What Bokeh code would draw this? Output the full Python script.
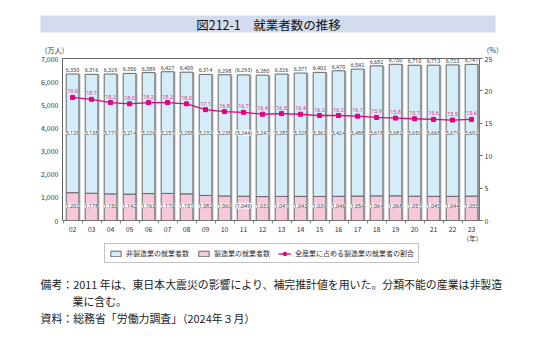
from bokeh.plotting import figure
from bokeh.layouts import column
from bokeh.models import (Range1d, LinearAxis, FixedTicker, ColumnDataSource, Label,
                          Legend, LegendItem, NumeralTickFormatter, BoxAnnotation)
from bokeh.transform import dodge
from bokeh.core.properties import value
from bokeh.embed import file_html
from bokeh.resources import INLINE

# ---------------- data ----------------
years = ["02", "03", "04", "05", "06", "07", "08", "09", "10", "11", "12",
         "13", "14", "15", "16", "17", "18", "19", "20", "21", "22", "23"]
non_mfg = [5128, 5138, 5179, 5214, 5226, 5257, 5258, 5232, 5238, 5244, 5247,
           5285, 5328, 5363, 5424, 5488, 5618, 5682, 5659, 5668, 5679, 5692]
mfg = [1202, 1178, 1150, 1142, 1163, 1170, 1151, 1082, 1060, 1049, 1033,
       1041, 1043, 1039, 1046, 1054, 1064, 1068, 1051, 1045, 1044, 1055]
total = [6330, 6316, 6329, 6356, 6389, 6427, 6409, 6314, 6298, 6293, 6280,
         6326, 6371, 6402, 6470, 6542, 6682, 6750, 6710, 6713, 6723, 6747]
share = [19.0, 18.7, 18.2, 18.0, 18.2, 18.2, 18.0, 17.1, 16.8, 16.7, 16.4,
         16.5, 16.4, 16.2, 16.2, 16.1, 15.9, 15.8, 15.7, 15.6, 15.5, 15.6]
estimated_year = "11"
left_ticks = [0, 1000, 2000, 3000, 4000, 5000, 6000, 7000]
right_ticks = [0, 5, 10, 15, 20, 25]

title_text = "図212-1　就業者数の推移"
legend_labels = ["非製造業の就業者数", "製造業の就業者数", "全産業に占める製造業の就業者の割合"]
note1 = "備考：2011 年は、東日本大震災の影響により、補完推計値を用いた。分類不能の産業は非製造"
note2 = "業に含む。"
note3 = "資料：総務省「労働力調査」（2024年３月）"

# ---------------- helpers ----------------
def fmt(v, yr):
    s = f"{v:,}"
    return f"({s})" if yr == estimated_year else s

idx = list(range(len(years)))
src = ColumnDataSource(dict(
    x=idx, non_mfg=non_mfg, mfg=mfg, total=total, share=share,
    total_label=[fmt(v, y) for v, y in zip(total, years)],
    non_label=[fmt(v, y) for v, y in zip(non_mfg, years)],
    mfg_label=[fmt(v, y) for v, y in zip(mfg, years)],
    share_label=[f"{v:.1f}" for v in share],
))

W = 535
H_TOP, H_MAIN, H_BOT = 55, 179, 108
FL, FW = 62, 417
FT, FH = 3, 164

JP = "Noto Sans CJK JP"
NUM = "Roboto"
TXT = "#333333"
BLUE = "#d5ecf9"
PINK = "#f6c8dc"
MAG = "#e4007f"
EDGE = "#666666"


def blank(h):
    f = figure(width=W, height=h, x_range=Range1d(0, W), y_range=Range1d(h, 0),
               x_axis_type=None, y_axis_type=None, min_border=0, frame_align=False,
               output_backend="svg", toolbar_location=None)
    f.outline_line_color = None
    f.border_fill_color = "white"
    f.background_fill_color = "white"
    return f


def lab(f, x, y, text, size, align="left", color=TXT):
    f.add_layout(Label(x=x, y=y, text=text, text_align=align, text_baseline="middle",
                       text_font=JP, text_font_size=size, text_color=color))


# ---------------- top: title band ----------------
top = blank(H_TOP)
top.add_layout(BoxAnnotation(left=40, right=495, top=15, bottom=32,
                             fill_color="#d3dbee", fill_alpha=1, line_color=None))
lab(top, 268, 23.5, title_text, "12.5px", align="center", color="#111111")
lab(top, 40, 49.5, "（万人）", "7px")
lab(top, 482, 49.5, "（%）", "7px")

# ---------------- main chart ----------------
p = figure(width=W, height=H_MAIN, frame_align=False,
           min_border_left=FL, min_border_right=W - FL - FW,
           min_border_top=FT, min_border_bottom=H_MAIN - FT - FH,
           x_range=Range1d(-0.53, 21.42), y_range=Range1d(0, 7000),
           output_backend="svg", toolbar_location=None)
p.outline_line_color = "#666666"
p.outline_line_width = 1
p.xgrid.visible = False
p.ygrid.visible = False
p.border_fill_color = "white"
p.background_fill_color = "white"

p.yaxis.ticker = FixedTicker(ticks=left_ticks)
p.yaxis.formatter = NumeralTickFormatter(format="0,0")
p.yaxis.axis_line_color = None
p.yaxis.major_tick_out = 0
p.yaxis.major_tick_in = 0
p.yaxis.minor_tick_line_color = None
p.yaxis.major_label_text_font = JP
p.yaxis.major_label_text_font_size = "7px"
p.yaxis.major_label_text_color = TXT
p.yaxis.major_label_standoff = 4

p.extra_y_ranges = {"pct": Range1d(0, 25)}
ax_r = LinearAxis(y_range_name="pct", ticker=FixedTicker(ticks=right_ticks))
ax_r.axis_line_color = None
ax_r.major_tick_out = 3
ax_r.major_tick_in = 0
ax_r.major_tick_line_color = EDGE
ax_r.minor_tick_line_color = None
ax_r.major_label_text_font = JP
ax_r.major_label_text_font_size = "7px"
ax_r.major_label_text_color = TXT
ax_r.major_label_standoff = 2
p.add_layout(ax_r, "right")

p.xaxis.ticker = FixedTicker(ticks=idx, minor_ticks=[i - 0.5 for i in range(len(years) + 1)])
p.xaxis.major_label_overrides = {i: y for i, y in enumerate(years)}
p.xaxis.axis_line_color = None
p.xaxis.major_tick_out = 0
p.xaxis.major_tick_in = 0
p.xaxis.minor_tick_out = 3
p.xaxis.minor_tick_in = 0
p.xaxis.minor_tick_line_color = "#888888"
p.xaxis.major_label_text_font = JP
p.xaxis.major_label_text_font_size = "7px"
p.xaxis.major_label_text_color = TXT
p.xaxis.major_label_standoff = 2

BW = 0.67
p.vbar(x=dodge("x", 0.08), top="total", width=BW, source=src,
       fill_color="#b9b9b9", line_color=None)
p.vbar(x="x", bottom=0, top="mfg", width=BW, source=src,
       fill_color=PINK, line_color=EDGE, line_width=1)
p.vbar(x="x", bottom="mfg", top="total", width=BW, source=src,
       fill_color=BLUE, line_color=EDGE, line_width=1)
p.line(x="x", y="share", y_range_name="pct", source=src,
       line_color=MAG, line_width=1.3)
p.scatter(x="x", y="share", y_range_name="pct", source=src,
          marker="square", size=4, fill_color=MAG, line_color=MAG)

p.text(x="x", y="total", text="total_label", source=src, y_offset=-2,
       text_align="center", text_baseline="bottom", text_font=value(NUM),
       text_font_size="5.5px", text_color="#444444")
p.text(x="x", y=3790, text="non_label", source=src,
       text_align="center", text_baseline="middle", text_font=value(NUM),
       text_font_size="5.5px", text_color="#444444",
       background_fill_color="white", background_fill_alpha=0.9)
p.text(x="x", y=640, text="mfg_label", source=src,
       text_align="center", text_baseline="middle", text_font=value(NUM),
       text_font_size="5.5px", text_color="#444444",
       background_fill_color="white", background_fill_alpha=0.9)
p.text(x="x", y="share", y_range_name="pct", text="share_label", source=src,
       y_offset=-4, text_align="center", text_baseline="bottom", text_font=value(NUM),
       text_font_size="5.5px", text_color="#e2358a")

# ---------------- bottom: legend + notes ----------------
bot = blank(H_BOT)
nan = float("nan")
g_non = bot.vbar(x=[nan], top=[nan], width=1, fill_color=BLUE, line_color=EDGE)
g_mfg = bot.vbar(x=[nan], top=[nan], width=1, fill_color=PINK, line_color=EDGE)
g_line = bot.line(x=[nan], y=[nan], line_color=MAG, line_width=1.3)
g_pts = bot.scatter(x=[nan], y=[nan], marker="square", size=4, fill_color=MAG, line_color=MAG)
legend = Legend(items=[LegendItem(label=legend_labels[0], renderers=[g_non]),
                       LegendItem(label=legend_labels[1], renderers=[g_mfg]),
                       LegendItem(label=legend_labels[2], renderers=[g_line, g_pts])],
                orientation="horizontal", location=(104, 79),
                glyph_width=13, glyph_height=7, label_standoff=4, spacing=8,
                padding=4, margin=0, label_text_font=JP, label_text_font_size="7px",
                label_text_color=TXT, border_line_color="#888888",
                label_height=8)
bot.add_layout(legend, "center")
lab(bot, 472, 3.5, "（年）", "6.5px", align="center")
lab(bot, 40, 49, note1, "10.9px", color="#222222")
lab(bot, 72, 66, note2, "10.9px", color="#222222")
lab(bot, 40, 83, note3, "10.9px", color="#222222")

layout = column(top, p, bot, spacing=0)
open("out.html", "w").write(file_html(layout, INLINE))
